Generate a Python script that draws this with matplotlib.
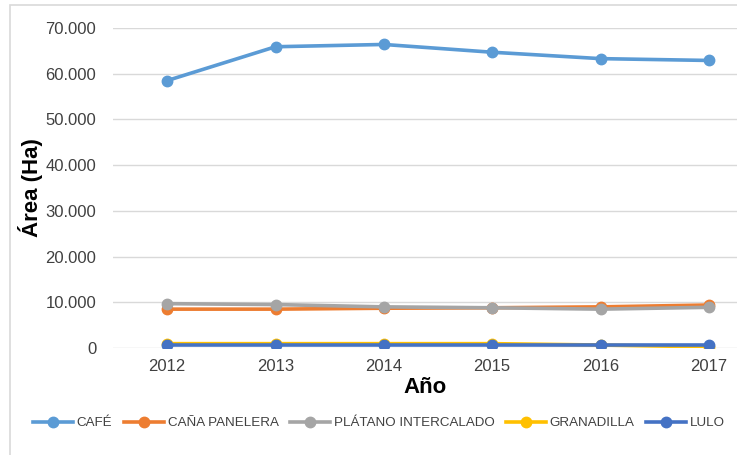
import matplotlib.pyplot as plt
from matplotlib.patches import Rectangle
from matplotlib.ticker import FuncFormatter

plt.rcParams['font.family'] = ['Liberation Sans', 'DejaVu Sans']

years = ['2012', '2013', '2014', '2015', '2016', '2017']
cafe = [58500, 65900, 66400, 64700, 63300, 62900]
cana = [8500, 8500, 8700, 8800, 9000, 9400]
platano = [9700, 9500, 9000, 8800, 8500, 8900]
granadilla = [950, 950, 950, 950, 650, 250]
lulo = [700, 700, 700, 700, 700, 700]

series = [('CAFÉ', cafe, '#5B9BD5'),
          ('CAÑA PANELERA', cana, '#ED7D31'),
          ('PLÁTANO INTERCALADO', platano, '#A5A5A5'),
          ('GRANADILLA', granadilla, '#FFC000'),
          ('LULO', lulo, '#4472C4')]

fig = plt.figure(figsize=(7.37, 4.55), dpi=100)
fig.patches.append(Rectangle((10/737, -0.1), 1.0, 1.1 - 5/455, transform=fig.transFigure,
                             fill=False, edgecolor='#D9D9D9', linewidth=1.2))

ax = fig.add_axes([113/737, 1 - 348/455, (737 - 113)/737, 320/455])
x = range(len(years))
for name, vals, col in series:
    ax.plot(x, vals, color=col, lw=2.6, marker='o', markersize=7.5, label=name)

ax.set_xlim(-0.5, 5.26)
ax.set_ylim(0, 70000)
ax.set_yticks(range(0, 70001, 10000))
ax.yaxis.set_major_formatter(FuncFormatter(lambda v, p: f'{int(v):,}'.replace(',', '.')))
ax.set_xticks(list(x))
ax.set_xticklabels(years)
ax.grid(axis='y', color='#D9D9D9', lw=1)
ax.set_axisbelow(True)
for s in ax.spines.values():
    s.set_visible(False)
ax.tick_params(length=0, labelsize=12, colors='#404040', pad=12)
ax.tick_params(axis='x', pad=8)

ax.set_xlabel('Año', fontsize=16, fontweight='bold', labelpad=2)
ax.set_ylabel('Área (Ha)', fontsize=16, fontweight='bold', labelpad=2)

fig.legend(loc='center', bbox_to_anchor=(0.514, 1 - 423/455), ncol=5, frameon=False,
           fontsize=9.6, handlelength=3.0, columnspacing=0.85, handletextpad=0.3,
           labelcolor='#404040')

fig.savefig('out.png', dpi=100)
